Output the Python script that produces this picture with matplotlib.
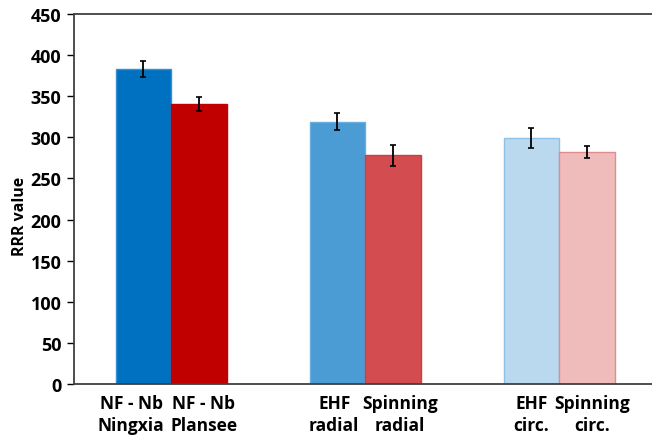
import numpy as np
import matplotlib.pyplot as plt
from matplotlib import transforms

# data
labels = ["NF - Nb\nNingxia", "NF - Nb\nPlansee", "EHF\nradial",
          "Spinning\nradial", "EHF\ncirc.", "Spinning\ncirc."]
rrr = [383, 340, 319, 278, 299, 282]
err = [10, 8.5, 10, 12.5, 12, 7]
group = [0, 0, 1, 1, 2, 2]
side = [-1, 1, -1, 1, -1, 1]

colors = ["#0070C0", "#C00000", "#4B9BD5", "#D34C4F", "#BBD9EE", "#EFBBBB"]
edges = ["#3A8FD0", "#C00000", "#6AAEDF", "#C84044", "#8EC0E6", "#E08C8C"]
# horizontal nudge of each category label, in pixels
label_shift = [-12, 5, -3, 7, 0, 5]

width = 0.286
x = np.array(group) + np.array(side) * width / 2

plt.rcParams['font.family'] = ['Open Sans', 'DejaVu Sans']
plt.rcParams['font.weight'] = 'bold'
fig = plt.figure(figsize=(6.52, 4.39), dpi=100)
ax = fig.add_axes([0.1135, 0.123, 0.8865, 0.843])

ax.bar(x, rrr, width=width, color=colors, edgecolor=edges, linewidth=1, zorder=2)
ax.errorbar(x, rrr, yerr=err, fmt="none", ecolor="black", elinewidth=1.3,
            capsize=2, capthick=1.2, zorder=3)

ax.set_xlim(-0.5, 2.479)
ax.set_ylim(0, 450)
ax.set_yticks(range(0, 451, 50))
ax.set_xticks([])
trans = ax.get_xaxis_transform()
for xi, lab, dx in zip(x, labels, label_shift):
    off = transforms.ScaledTranslation(dx / 100, -10 / 100, fig.dpi_scale_trans)
    ax.text(xi, 0, lab, transform=trans + off, ha="center", va="top",
            multialignment="center", fontsize=12.5, fontweight="bold",
            linespacing=1.25)

ax.tick_params(axis="y", length=5, width=1, labelsize=13, direction="out", pad=4)
for t in ax.get_yticklabels():
    t.set_fontweight("bold")

ax.set_ylabel("RRR value", fontsize=11.5, fontweight="bold")
ax.yaxis.set_label_coords(-0.079, 0.455)

ax.spines["right"].set_visible(False)
for s in ["left", "top", "bottom"]:
    ax.spines[s].set_color("#404040")
    ax.spines[s].set_linewidth(1.3)

fig.savefig("out.png", dpi=100)
